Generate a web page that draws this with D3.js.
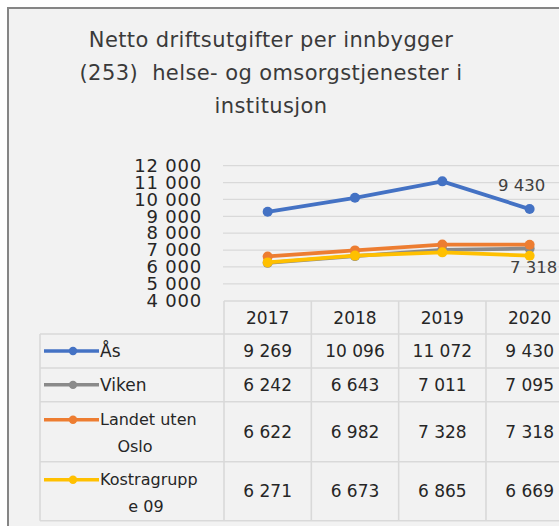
<!DOCTYPE html>
<html>
<head>
<meta charset="utf-8">
<script src="https://cdn.jsdelivr.net/npm/d3@7"></script>
<style>
  body { margin: 0; background: #fff; }
  text { font-family: "DejaVu Sans", sans-serif; white-space: pre; }
</style>
</head>
<body>
<div id="chart"></div>
<script>
// Data
const years = ["2017", "2018", "2019", "2020"];
const seriesNames = ["Ås", "Viken", "Landet uten Oslo", "Kostragruppe 09"];
const aasValues = [9269, 10096, 11072, 9430];
const vikenValues = [6242, 6643, 7011, 7095];
const landetValues = [6622, 6982, 7328, 7318];
const kostraValues = [6271, 6673, 6865, 6669];
const yTicks = [4000, 5000, 6000, 7000, 8000, 9000, 10000, 11000, 12000];
const titleLines = ["Netto driftsutgifter per innbygger", "(253)  helse- og omsorgstjenester i", "institusjon"];
// legend text as it wraps in the table
const legendLines = [["Ås"], ["Viken"], ["Landet uten", "Oslo"], ["Kostragrupp", "e 09"]];
// which points get a data label
const pointLabels = [{series: 0, year: "2020", pos: "above"}, {series: 2, year: "2020", pos: "below"}];

const series = [aasValues, vikenValues, landetValues, kostraValues].map((v, i) => ({
    name: seriesNames[i],
    values: years.map((y, j) => ({year: y, value: v[j]}))
}));

const width = 559, height = 526;
const colors = ["#4472C4", "#8a8a8a", "#ED7D31", "#FFC000"];
const nb = d3.formatLocale({decimal: ",", thousands: "\u00a0", grouping: [3], currency: ["", " kr"]});
const fmt = nb.format(",d");

const svg = d3.select("#chart")
    .append("svg")
    .attr("width", width)
    .attr("height", height);

// chart area background + border (cut off on the right and bottom)
svg.append("rect")
    .attr("x", 8).attr("y", 8)
    .attr("width", 700).attr("height", 700)
    .attr("fill", "#f2f2f2")
    .attr("stroke", "#858585")
    .attr("stroke-width", 2);

// Title
svg.append("g").selectAll("text")
    .data(titleLines)
    .enter().append("text")
    .attr("x", 271)
    .attr("y", (d, i) => 47 + i * 33)
    .attr("text-anchor", "middle")
    .attr("font-size", 21)
    .attr("letter-spacing", 0.4)
    .attr("fill", "#3a3a3a")
    .text(d => d);

// Scales
const xScale = d3.scaleBand()
    .domain(years)
    .range([224, 573.3]);

const yScale = d3.scaleLinear()
    .domain([4000, 12000])
    .range([300.7, 165.7]);

const colorScale = d3.scaleOrdinal()
    .domain(seriesNames)
    .range(colors);

// Gridlines
svg.append("g").selectAll("line")
    .data(yTicks.slice(1))
    .enter().append("line")
    .attr("x1", 223).attr("x2", width)
    .attr("y1", d => yScale(d)).attr("y2", d => yScale(d))
    .attr("stroke", "#d9d9d9")
    .attr("stroke-width", 1.3);

// Y axis labels
const yAxis = svg.append("g")
    .attr("transform", "translate(202,0)")
    .call(d3.axisLeft(yScale).tickValues(yTicks).tickFormat(fmt).tickSize(0).tickPadding(0));
yAxis.select(".domain").remove();
yAxis.selectAll("text")
    .attr("font-family", "DejaVu Sans")
    .attr("font-size", 18)
    .attr("letter-spacing", 0.8)
    .attr("fill", "#262626");

// Lines
const line = d3.line()
    .x(d => xScale(d.year) + xScale.bandwidth() / 2)
    .y(d => yScale(d.value));

const seriesG = svg.selectAll(".series")
    .data(series)
    .enter().append("g")
    .attr("class", "series");

seriesG.append("path")
    .attr("d", d => line(d.values))
    .attr("fill", "none")
    .attr("stroke", d => colorScale(d.name))
    .attr("stroke-width", 3.8)
    .attr("stroke-linejoin", "round");

seriesG.selectAll("circle")
    .data(d => d.values.map(v => ({...v, name: d.name})))
    .enter().append("circle")
    .attr("cx", d => xScale(d.year) + xScale.bandwidth() / 2)
    .attr("cy", d => yScale(d.value))
    .attr("r", 5)
    .attr("fill", d => colorScale(d.name));

// Data labels
svg.append("g").selectAll("text")
    .data(pointLabels)
    .enter().append("text")
    .attr("x", d => xScale(d.year) + xScale.bandwidth() / 2 + (d.pos === "above" ? -8 : 4))
    .attr("y", d => {
        const v = series[d.series].values.find(p => p.year === d.year).value;
        return yScale(v) + (d.pos === "above" ? -24 : 23);
    })
    .attr("dy", "0.35em")
    .attr("text-anchor", "middle")
    .attr("font-size", 16.5)
    .attr("fill", "#404040")
    .text(d => fmt(series[d.series].values.find(p => p.year === d.year).value));

// Data table
const tableLeft = 40, headerTop = 301;
const rowHeights = [33, 34, 33.7, 60, 59];
const rowTops = [headerTop];
rowHeights.forEach((h, i) => rowTops.push(rowTops[i] + h));
const tableBottom = rowTops[rowTops.length - 1];
const tableRight = xScale.range()[1];
const gridColor = "#d9d9d9";
const table = svg.append("g");

// horizontal lines
table.append("line")
    .attr("x1", xScale.range()[0]).attr("x2", tableRight)
    .attr("y1", headerTop).attr("y2", headerTop);
table.selectAll(".hline")
    .data(rowTops.slice(1))
    .enter().append("line")
    .attr("class", "hline")
    .attr("x1", tableLeft).attr("x2", tableRight)
    .attr("y1", d => d).attr("y2", d => d);

// vertical lines
table.append("line")
    .attr("x1", tableLeft).attr("x2", tableLeft)
    .attr("y1", rowTops[1]).attr("y2", tableBottom);
table.selectAll(".vline")
    .data(years)
    .enter().append("line")
    .attr("class", "vline")
    .attr("x1", d => xScale(d)).attr("x2", d => xScale(d))
    .attr("y1", headerTop).attr("y2", tableBottom);
table.selectAll("line")
    .attr("stroke", gridColor)
    .attr("stroke-width", 1.6);

// header
table.selectAll(".year")
    .data(years)
    .enter().append("text")
    .attr("class", "year")
    .attr("x", d => xScale(d) + xScale.bandwidth() / 2)
    .attr("y", (rowTops[0] + rowTops[1]) / 2)
    .attr("dy", "0.36em")
    .attr("text-anchor", "middle")
    .attr("font-size", 17)
    .attr("fill", "#262626")
    .text(d => d);

// rows
const rows = table.selectAll(".row")
    .data(series)
    .enter().append("g")
    .attr("class", "row");

rows.selectAll(".val")
    .data((d, i) => d.values.map(v => ({...v, row: i})))
    .enter().append("text")
    .attr("class", "val")
    .attr("x", d => xScale(d.year) + xScale.bandwidth() / 2)
    .attr("y", d => (rowTops[d.row + 1] + rowTops[d.row + 2]) / 2)
    .attr("dy", "0.36em")
    .attr("text-anchor", "middle")
    .attr("font-size", 17)
    .attr("fill", "#262626")
    .text(d => fmt(d.value));

// legend keys
rows.each(function(d, i) {
    const g = d3.select(this);
    const top = rowTops[i + 1], bottom = rowTops[i + 2];
    const lines = legendLines[i];
    const keyY = lines.length === 1 ? (top + bottom) / 2 : top + 18;
    g.append("line")
        .attr("x1", 44).attr("x2", 99)
        .attr("y1", keyY).attr("y2", keyY)
        .attr("stroke", colorScale(d.name))
        .attr("stroke-width", 3.5);
    g.append("circle")
        .attr("cx", 73).attr("cy", keyY)
        .attr("r", 4.2)
        .attr("fill", colorScale(d.name));
    if (lines.length === 1) {
        g.append("text")
            .attr("x", 100)
            .attr("y", keyY)
            .attr("dy", "0.36em")
            .attr("font-size", 17)
            .attr("fill", "#262626")
            .text(lines[0]);
    } else {
        g.append("text")
            .attr("x", 100)
            .attr("y", keyY)
            .attr("dy", "0.36em")
            .attr("font-size", 16)
            .attr("fill", "#262626")
            .text(lines[0]);
        g.append("text")
            .attr("x", i === 2 ? 135 : 146)
            .attr("y", keyY + 27)
            .attr("dy", "0.36em")
            .attr("text-anchor", "middle")
            .attr("font-size", 16)
            .attr("fill", "#262626")
            .text(lines[1]);
    }
});
</script>
</body>
</html>
